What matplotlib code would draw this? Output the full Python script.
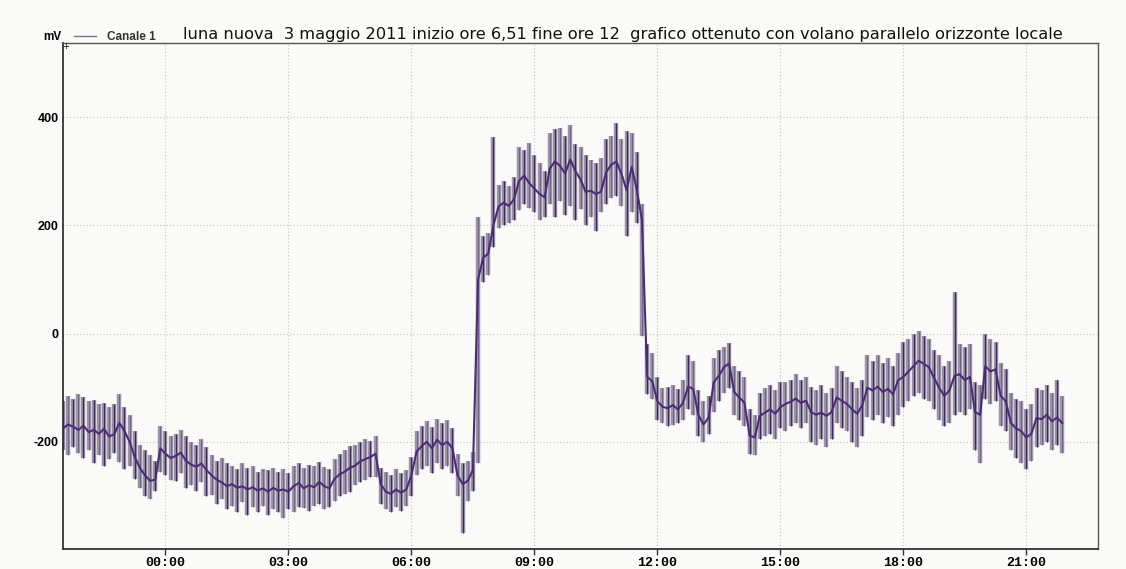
import numpy as np
import matplotlib
matplotlib.use('Agg')
import matplotlib.pyplot as plt
from matplotlib.lines import Line2D

# readings every 7.5 min, starting 21:30 of the day before (hours from midnight)
t_start = -2.5
t_step = 0.125

# centre value of each reading (mV)
center = [
    -175, -168, -172, -178, -170, -182, -178, -185, -176, -190,
    -186, -165, -180, -200, -228, -248, -262, -272, -270, -212,
    -222, -230, -226, -220, -235, -242, -246, -240, -252, -262,
    -270, -275, -282, -278, -285, -282, -288, -284, -290, -286,
    -292, -285, -290, -288, -292, -282, -276, -286, -280, -284,
    -274, -282, -286, -268, -260, -255, -248, -244, -236, -232,
    -228, -222, -278, -292, -296, -288, -294, -288, -262, -218,
    -208, -200, -212, -196, -206, -200, -212, -262, -278, -272,
    -252, 100, 140, 148, 200, 235, 242, 236, 248, 282,
    292, 278, 268, 258, 252, 305, 318, 310, 296, 322,
    300, 285, 262, 264, 258, 262, 298, 312, 318, 295,
    265, 308, 265, 210, -80, -88, -125, -135, -138, -132,
    -140, -128, -98, -102, -150, -168, -155, -90, -78, -62,
    -55, -108, -118, -128, -188, -192, -152, -146, -140, -148,
    -136, -130, -126, -120, -128, -124, -145, -150, -146, -152,
    -145, -118, -124, -130, -140, -148, -132, -100, -105, -98,
    -108, -102, -112, -86, -80, -70, -60, -50, -56, -62,
    -82, -100, -115, -105, -78, -75, -86, -80, -145, -150,
    -60, -70, -66, -115, -125, -165, -175, -180, -192, -185,
    -156, -158, -150, -162, -155, -165,
]

# lowest value inside each reading (mV)
low = [
    -215, -225, -210, -220, -230, -215, -240, -225, -245, -232,
    -220, -238, -250, -245, -268, -285, -300, -305, -290, -255,
    -262, -270, -272, -258, -285, -280, -290, -275, -300, -298,
    -315, -305, -325, -318, -330, -312, -335, -320, -330, -318,
    -335, -325, -330, -340, -325, -330, -320, -322, -328, -318,
    -315, -325, -320, -310, -300, -296, -292, -280, -275, -270,
    -265, -265, -315, -325, -330, -320, -328, -318, -300, -262,
    -250, -245, -258, -240, -250, -245, -258, -300, -368, -310,
    -290, -240, 95, 108, 160, 195, 200, 205, 210, 228,
    240, 232, 225, 210, 215, 240, 215, 245, 220, 235,
    210, 230, 200, 215, 190, 225, 240, 250, 255, 235,
    180, 225, 205, -5, -112, -120, -160, -165, -170, -168,
    -165, -160, -140, -150, -190, -200, -185, -145, -125, -110,
    -100, -150, -160, -170, -222, -225, -195, -190, -185, -195,
    -175, -180, -170, -165, -175, -165, -200, -205, -195, -210,
    -195, -165, -175, -180, -200, -210, -190, -155, -160, -150,
    -165, -155, -170, -150, -135, -125, -115, -110, -120, -125,
    -140, -160, -170, -165, -150, -145, -150, -140, -215, -240,
    -120, -130, -125, -170, -180, -215, -230, -240, -250, -235,
    -210, -205, -200, -215, -205, -220,
]

# highest value inside each reading (mV)
high = [
    -125, -115, -120, -112, -118, -125, -122, -130, -128, -135,
    -130, -112, -135, -150, -180, -205, -215, -225, -235, -170,
    -180, -190, -185, -178, -190, -200, -205, -195, -210, -225,
    -235, -230, -240, -245, -250, -240, -248, -245, -255, -250,
    -252, -248, -255, -250, -258, -245, -240, -248, -242, -245,
    -238, -246, -250, -232, -222, -215, -208, -205, -200, -195,
    -198, -190, -248, -255, -262, -250, -258, -252, -228, -180,
    -170, -162, -172, -158, -165, -160, -175, -222, -240, -235,
    -218, 215, 180, 185, 363, 275, 282, 272, 290, 345,
    340, 352, 330, 315, 300, 370, 378, 380, 365, 385,
    350, 345, 330, 320, 315, 325, 360, 365, 390, 360,
    375, 370, 335, 240, -20, -35, -80, -100, -98, -95,
    -102, -85, -40, -50, -105, -125, -115, -45, -30, -25,
    -18, -60, -70, -80, -140, -150, -110, -100, -95, -105,
    -90, -90, -85, -75, -85, -80, -98, -105, -95, -110,
    -100, -60, -70, -80, -90, -100, -85, -40, -50, -40,
    -55, -45, -60, -35, -15, -10, 0, 5, -5, -10,
    -30, -40, -60, -50, 77, -20, -25, -20, -90, -95,
    0, -10, -15, -55, -65, -110, -120, -125, -140, -130,
    -100, -105, -95, -110, -85, -115,
]

tick_hours = [0, 3, 6, 9, 12, 15, 18, 21]
tick_labels = ['00:00', '03:00', '06:00', '09:00', '12:00', '15:00', '18:00', '21:00']
y_ticks = [400, 200, 0, -200]

title = ('luna nuova  3 maggio 2011 inizio ore 6,51 fine ore 12  '
         'grafico ottenuto con volano parallelo orizzonte locale')

hours = t_start + t_step * np.arange(len(center))
lo = np.array(low)
hi = np.array(high)

W, H = 1126, 569
bg = '#fafaf8'
fig = plt.figure(figsize=(W / 100, H / 100), dpi=100, facecolor=bg)
ax = fig.add_axes([63 / W, 1 - 549 / H, (1098 - 63) / W, (549 - 43) / H])
ax.set_facecolor(bg)

# range of every reading, a grey halo with a dark stroke on top
ax.vlines(hours, lo, hi, color='#9b93a9', lw=3.2, zorder=2)
ax.vlines(hours[::2], lo[::2], hi[::2], color='#3e2858', lw=0.9, zorder=3)
ax.vlines(hours[1::2], lo[1::2], hi[1::2], color='#6f6482', lw=0.7, zorder=3)
ax.plot(hours, center, color='#4c2c74', lw=1.5, zorder=4)

ax.set_xlim(-2.5, 22.75)
ax.set_ylim(-398, 537)
ax.set_xticks(tick_hours)
ax.set_xticklabels(tick_labels, fontfamily='Liberation Mono',
                   fontweight='bold', fontsize=9.5)
ax.set_yticks(y_ticks)
ax.set_yticklabels([str(v) for v in y_ticks], fontfamily='Liberation Sans',
                   fontweight='bold', fontsize=9)
ax.tick_params(axis='x', length=4, width=1, color='#333333', pad=2)
ax.tick_params(axis='y', length=0, pad=3)

ax.grid(True, linestyle=(0, (1, 2)), color='#c4c4c4', lw=0.8, zorder=0)
for side in ['left', 'bottom']:
    ax.spines[side].set_color('#333333')
    ax.spines[side].set_linewidth(1.3)
for side in ['top', 'right']:
    ax.spines[side].set_color('#555555')
    ax.spines[side].set_linewidth(1.0)

# header: unit, legend entry and title
fig.text(62 / W, 1 - 40 / H, 'mV', ha='right', va='baseline',
         fontfamily='Liberation Sans', fontweight='bold', fontsize=8.5)
fig.add_artist(Line2D([74 / W, 96 / W], [1 - 36 / H, 1 - 36 / H],
                      color='#7a7290', lw=1.0))
fig.text(107 / W, 1 - 40 / H, 'Canale 1', ha='left', va='baseline',
         fontfamily='Liberation Sans', fontweight='bold', fontsize=8.5,
         color='#333333')
fig.text(183 / W, 1 - 39 / H, title, ha='left', va='baseline',
         fontfamily='DejaVu Sans', fontsize=11.7, color='#111111')
fig.text(66 / W, 1 - 49 / H, '+', ha='center', va='baseline', fontsize=6)

fig.savefig('out.png', dpi=100, facecolor=bg)
